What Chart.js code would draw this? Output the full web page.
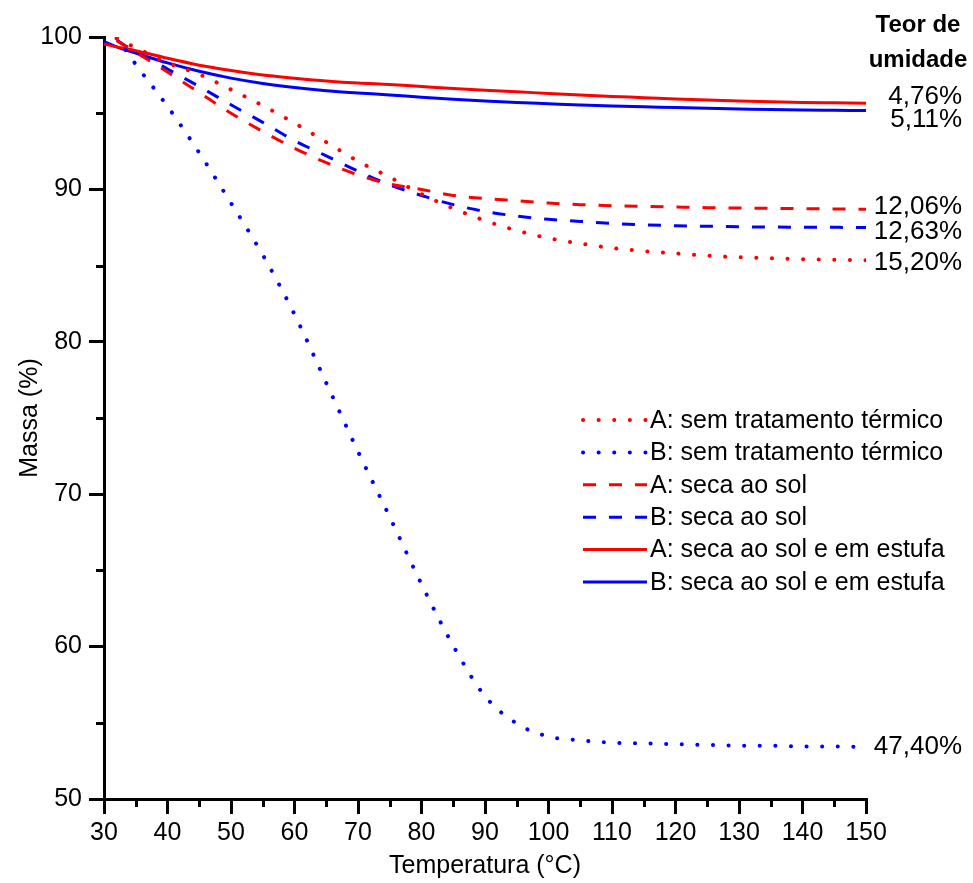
<!DOCTYPE html>
<html>
<head>
<meta charset="utf-8">
<script src="https://cdn.jsdelivr.net/npm/chart.js@4/dist/chart.umd.min.js"></script>
<style>
  html, body { margin: 0; padding: 0; background: #fff; }
  #wrap { width: 973px; height: 883px; }
</style>
</head>
<body>
<div id="wrap"><canvas id="grafico" width="973" height="883"></canvas></div>
<script>
// Temperaturas (°C) em que as curvas foram lidas
const temperaturas = [30, 32, 35, 40, 45, 50, 55, 60, 65, 70, 75, 80, 85, 90, 95, 100, 105, 110, 115, 120, 125, 130, 135, 140, 145, 150];

// Massa (%) de cada amostra
const aSemTratamento = [null, 99.9, 99.3, 98.3, 97.55, 96.55, 95.5, 94.35, 93.1, 91.85, 90.8, 89.7, 88.75, 87.95, 87.3, 86.8, 86.45, 86.15, 85.95, 85.8, 85.65, 85.55, 85.48, 85.42, 85.38, 85.35];
const bSemTratamento = [null, 100, 98.2, 95.45, 92.4, 89.1, 85.7, 81.8, 77.3, 72.8, 68.5, 64.1, 60.05, 56.75, 54.95, 54.1, 53.85, 53.7, 53.65, 53.6, 53.55, 53.5, 53.5, 53.45, 53.45, 53.4];
const aSecaSol = [null, 99.75, 99.0, 97.7, 96.35, 95.0, 93.8, 92.7, 91.75, 90.95, 90.35, 90.0, 89.6, 89.4, 89.25, 89.1, 89.0, 88.93, 88.88, 88.84, 88.8, 88.78, 88.76, 88.74, 88.72, 88.7];
const bSecaSol = [null, 99.8, 99.0, 97.9, 96.75, 95.55, 94.4, 93.2, 92.2, 91.2, 90.3, 89.6, 89.0, 88.55, 88.25, 88.04, 87.9, 87.76, 87.67, 87.62, 87.58, 87.55, 87.53, 87.52, 87.51, 87.5];
const aSolEstufa = [99.55, 99.35, 99.1, 98.6, 98.15, 97.8, 97.5, 97.3, 97.12, 96.98, 96.88, 96.75, 96.62, 96.5, 96.4, 96.3, 96.2, 96.1, 96.02, 95.93, 95.86, 95.8, 95.75, 95.71, 95.68, 95.65];
const bSolEstufa = [99.7, 99.35, 98.95, 98.3, 97.75, 97.3, 96.95, 96.68, 96.47, 96.33, 96.2, 96.05, 95.92, 95.8, 95.7, 95.62, 95.54, 95.47, 95.42, 95.37, 95.32, 95.28, 95.24, 95.21, 95.19, 95.17];

const nomes = ['A: sem tratamento térmico', 'B: sem tratamento térmico', 'A: seca ao sol', 'B: seca ao sol', 'A: seca ao sol e em estufa', 'B: seca ao sol e em estufa'];
// Teor de umidade escrito no fim de cada curva
const teorUmidade = ['15,20%', '47,40%', '12,06%', '12,63%', '4,76%', '5,11%'];

const VERMELHO = '#ff0000';
const AZUL = '#0000ff';
const FONTE = "'Liberation Sans', Arial, sans-serif";

function pontos(valores) {
  return temperaturas.map((t, i) => ({ x: t, y: valores[i] }));
}

function serie(label, valores, cor, tipo) {
  const ds = {
    label: label,
    data: pontos(valores),
    borderColor: cor,
    backgroundColor: cor,
    borderWidth: 3,
    pointRadius: 0,
    cubicInterpolationMode: 'monotone',
    fill: false
  };
  if (tipo === 'ponto') {
    ds.borderDash = [0.1, 15.5];
    ds.borderCapStyle = 'round';
    ds.borderWidth = 4;
  } else if (tipo === 'traco') {
    ds.borderDash = [13, 13];
  }
  return ds;
}

// deslocamento vertical dos rótulos da direita (px)
const ajusteRotulo = [3, 0, -2, 4, -6, 9];

// rótulos de teor de umidade, legenda e ticks menores
const extras = {
  id: 'extras',
  afterDraw(chart) {
    const ctx = chart.ctx;
    const x = chart.scales.x;
    const y = chart.scales.y;
    ctx.save();

    // ticks menores
    ctx.strokeStyle = '#000';
    ctx.lineWidth = 3;
    ctx.beginPath();
    for (let t = 35; t < 150; t += 10) {
      const px = Math.round(x.getPixelForValue(t)) + 0.5;
      ctx.moveTo(px, y.bottom);
      ctx.lineTo(px, y.bottom + 8);
    }
    for (let m = 55; m < 100; m += 10) {
      const py = Math.round(y.getPixelForValue(m)) + 0.5;
      ctx.moveTo(x.left, py);
      ctx.lineTo(x.left - 8, py);
    }
    ctx.stroke();

    // teor de umidade
    ctx.fillStyle = '#000';
    ctx.font = 'bold 24px ' + FONTE;
    ctx.textAlign = 'center';
    ctx.textBaseline = 'middle';
    ctx.fillText('Teor de', 918, 25);
    ctx.fillText('umidade', 918, 60);

    ctx.font = '26px ' + FONTE;
    ctx.textAlign = 'right';
    chart.data.datasets.forEach((ds, i) => {
      const ultimo = ds.data[ds.data.length - 1].y;
      ctx.fillText(teorUmidade[i], 962, y.getPixelForValue(ultimo) + ajusteRotulo[i]);
    });

    // legenda
    ctx.font = '25px ' + FONTE;
    ctx.textAlign = 'left';
    chart.data.datasets.forEach((ds, i) => {
      const ly = 420 + i * 32.4;
      ctx.save();
      ctx.strokeStyle = ds.borderColor;
      ctx.lineWidth = ds.borderWidth;
      ctx.lineCap = ds.borderCapStyle || 'butt';
      ctx.setLineDash(ds.borderDash || []);
      ctx.beginPath();
      ctx.moveTo(583, ly);
      ctx.lineTo(647, ly);
      ctx.stroke();
      ctx.restore();
      ctx.fillText(ds.label, 650, ly + 1);
    });

    ctx.restore();
  }
};

const grafico = new Chart(document.getElementById('grafico'), {
  type: 'line',
  data: {
    datasets: [
      serie(nomes[0], aSemTratamento, VERMELHO, 'ponto'),
      serie(nomes[1], bSemTratamento, AZUL, 'ponto'),
      serie(nomes[2], aSecaSol, VERMELHO, 'traco'),
      serie(nomes[3], bSecaSol, AZUL, 'traco'),
      serie(nomes[4], aSolEstufa, VERMELHO, 'linha'),
      serie(nomes[5], bSolEstufa, AZUL, 'linha')
    ]
  },
  options: {
    responsive: false,
    animation: false,
    events: [],
    layout: { padding: { left: 0, top: 37, right: 107, bottom: 0 } },
    plugins: { legend: { display: false }, tooltip: { enabled: false } },
    scales: {
      x: {
        type: 'linear',
        min: 30,
        max: 150,
        ticks: { stepSize: 10, color: '#000', padding: 4, maxRotation: 0, font: { family: FONTE, size: 25 } },
        grid: { drawOnChartArea: false, drawTicks: true, tickLength: 15, color: '#000', lineWidth: 3 },
        border: { display: true, color: '#000', width: 3 },
        title: { display: true, text: 'Temperatura (°C)', color: '#000', font: { family: FONTE, size: 25 }, padding: { top: 0, bottom: 2 } },
        afterFit(scale) { scale.height = 84; }
      },
      y: {
        min: 50,
        max: 100,
        ticks: { stepSize: 10, color: '#000', padding: 7, font: { family: FONTE, size: 25 } },
        grid: { drawOnChartArea: false, drawTicks: true, tickLength: 15, color: '#000', lineWidth: 3 },
        border: { display: true, color: '#000', width: 3 },
        title: { display: true, text: 'Massa (%)', color: '#000', font: { family: FONTE, size: 25 }, padding: { top: 15, bottom: 0 } },
        afterFit(scale) { scale.width = 104; }
      }
    }
  },
  plugins: [extras]
});
</script>
</body>
</html>
